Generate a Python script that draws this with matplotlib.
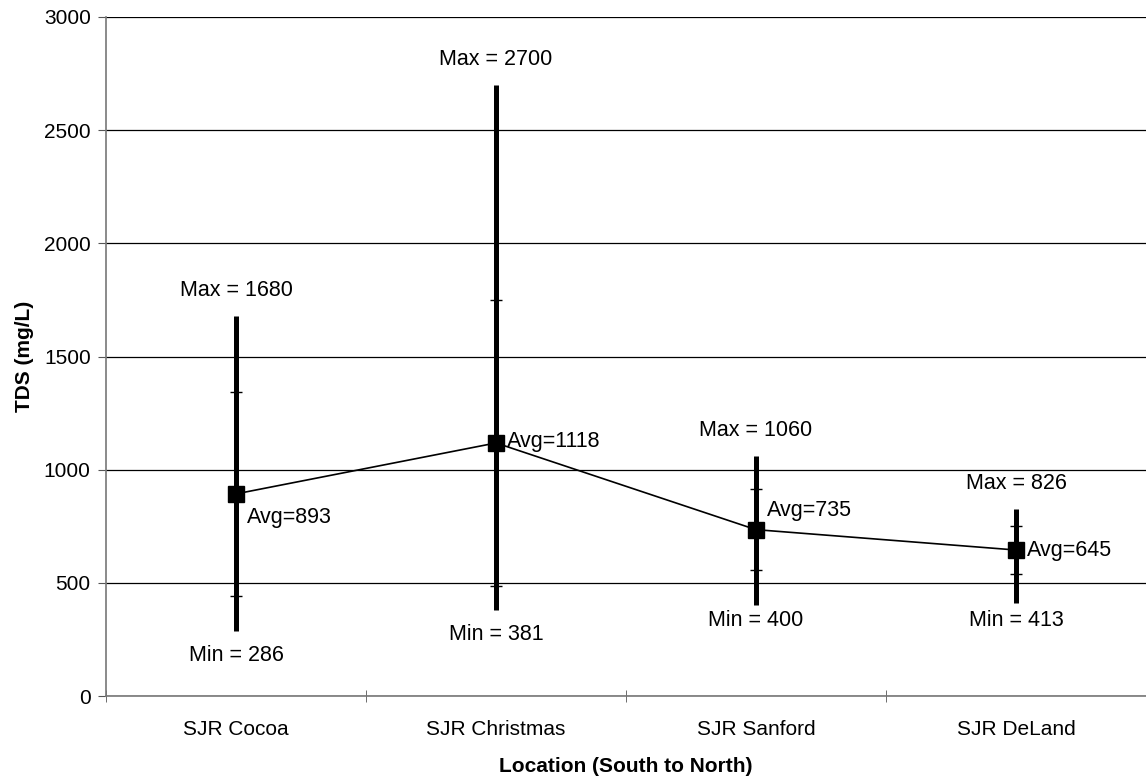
import numpy as np
import matplotlib.pyplot as plt

# ── Data ──────────────────────────────────────────────────────────────────────
locations = ["SJR Cocoa", "SJR Christmas", "SJR Sanford", "SJR DeLand"]
tds_avg = [893, 1118, 735, 645]
tds_min = [286, 381, 400, 413]
tds_max = [1680, 2700, 1060, 826]
tds_sd = [450, 630, 180, 105]

plt.rcParams["font.family"] = ["Liberation Sans", "DejaVu Sans"]

fig = plt.figure(figsize=(11.46, 7.8), dpi=100)
ax = fig.add_axes([106 / 1146, 1 - 696 / 780, 1 - 106 / 1146, (696 - 17) / 780])

x = np.arange(len(locations))

# min-max range bars
ax.vlines(x, tds_min, tds_max, color="black", lw=3.6, zorder=3)

# +/- one standard deviation ticks
lo = np.array(tds_avg) - np.array(tds_sd)
hi = np.array(tds_avg) + np.array(tds_sd)
for y in (lo, hi):
    ax.plot(x, y, ls="none", marker="_", ms=9, mew=1.0, color="black", zorder=4)

# average line with square markers
ax.plot(x, tds_avg, color="black", lw=1.2, marker="s", ms=12, zorder=5)

# labels (min labels sit closer on the two northern sites)
min_offsets = [-17.5, -17.5, -11, -13]
for i in x:
    ax.annotate(f"Max = {tds_max[i]}", (i, tds_max[i]), xytext=(0, 18.5),
                textcoords="offset points", ha="center", va="center", fontsize=15.5)
    ax.annotate(f"Min = {tds_min[i]}", (i, tds_min[i]), xytext=(0, min_offsets[i]),
                textcoords="offset points", ha="center", va="center", fontsize=15.5)

avg_offsets = [(8, -17), (8, 1), (8, 14), (8, 0)]
for i in x:
    ax.annotate(f"Avg={tds_avg[i]}", (i, tds_avg[i]), xytext=avg_offsets[i],
                textcoords="offset points", ha="left", va="center", fontsize=15.5)

# axes
ax.set_xlim(-0.5, 3.48)
ax.set_ylim(0, 3000)
ax.set_yticks(np.arange(0, 3001, 500))
ax.yaxis.grid(True, color="black", lw=0.9)
ax.set_axisbelow(True)

ax.set_xticks(x)
ax.set_xticklabels(locations, fontsize=15)
ax.set_xticks(np.arange(-0.5, 3.6, 1.0), minor=True)
ax.tick_params(axis="x", which="major", length=0, pad=17)
ax.tick_params(axis="x", which="minor", length=8, direction="inout", color="#555555")
ax.tick_params(axis="y", length=6, direction="out", color="#555555", labelsize=15, pad=5)

for side in ("top", "right"):
    ax.spines[side].set_visible(False)
for side in ("left", "bottom"):
    ax.spines[side].set_color("#777777")
    ax.spines[side].set_linewidth(1.2)

ax.set_xlabel("Location (South to North)", fontsize=15, fontweight="bold", labelpad=13)
ax.set_ylabel("TDS (mg/L)", fontsize=15, fontweight="bold", labelpad=7)

fig.savefig("out.png", dpi=100)
